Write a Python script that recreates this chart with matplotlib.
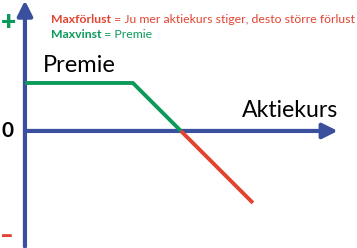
import matplotlib.pyplot as plt

# payoff for a sold call option (premium = 1 unit)
kurs_platt = [0, 2.25, 3.25]
vinst_platt = [1, 1, 0]
kurs_forlust = [3.25, 4.75]
vinst_forlust = [0, -1.5]

blue = "#3b4f9f"
green = "#0c9a5b"
red = "#e14431"

plt.rcParams['font.family'] = ['Lato', 'DejaVu Sans']

fig = plt.figure(figsize=(3.57, 2.48), dpi=100)
ax = fig.add_axes([0, 0, 1, 1])
ax.set_xlim(-0.52, 6.92)
ax.set_ylim(-2.44, 2.73)
ax.axis('off')

# axes with arrows
ax.annotate('', xy=(-0.0, 2.72), xytext=(0, -2.41),
            arrowprops=dict(arrowstyle='-|>,head_length=0.9,head_width=0.45', lw=3, color=blue,
                            shrinkA=0, shrinkB=0))
ax.annotate('', xy=(6.52, 0), xytext=(0, 0),
            arrowprops=dict(arrowstyle='-|>,head_length=0.9,head_width=0.45', lw=3, color=blue,
                            shrinkA=0, shrinkB=0))

ax.plot(kurs_platt, vinst_platt, color=green, lw=2.8, solid_capstyle='butt', zorder=3)
ax.plot(kurs_forlust, vinst_forlust, color=red, lw=2.8, solid_capstyle='butt', zorder=3)

ax.text(0.375, 1.23, "Premie", fontsize=17, color='black', ha='left', va='baseline')
ax.text(4.52, 0.29, "Aktiekurs", fontsize=16.6, color='black', ha='left', va='baseline')
ax.text(-0.365, 0, "0", fontsize=15, fontweight='bold', color='black', ha='center', va='center')
ax.text(-0.35, 2.27, "+", fontsize=19, fontweight='heavy', color=green, ha='center', va='center')
ax.text(-0.38, -2.2, "\u2013", fontsize=17, fontweight='heavy', color=red, ha='center', va='center')

t1 = ax.text(0.54, 2.25, "Maxförlust", fontsize=8.8, fontweight='bold', color=red, ha='left', va='baseline')
ax.annotate(" = Ju mer aktiekurs stiger, desto större förlust", xycoords=t1, xy=(1, 0),
            va='bottom', ha='left', fontsize=8.8, color=red)
t2 = ax.text(0.54, 1.94, "Maxvinst", fontsize=8.8, fontweight='bold', color=green, ha='left', va='baseline')
ax.annotate(" = Premie", xycoords=t2, xy=(1, 0), va='bottom', ha='left', fontsize=8.8, color=green)

fig.savefig("out.png", dpi=100)
